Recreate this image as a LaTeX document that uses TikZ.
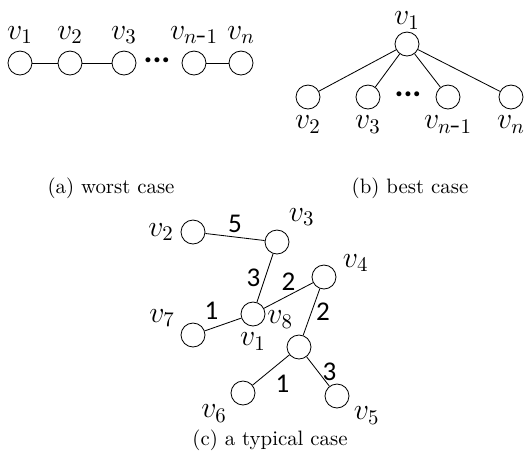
\documentclass[tikz,border=0pt]{standalone}
\usepackage{fontspec}
\newfontfamily\weightfont{Carlito}
\usetikzlibrary{positioning}

\begin{document}
\begin{tikzpicture}[
    x=0.48pt, y=-0.48pt,
    vert/.style = {draw, circle, minimum size=11.5pt, inner sep=0pt},
    vlabel/.style = {font=\Large, inner sep=1pt, label distance=2pt},
    weight/.style = {font=\weightfont\fontsize{13}{15}\selectfont, inner sep=2pt},
    dots/.style = {font=\weightfont\bfseries\fontsize{16}{18}\selectfont}
  ]
  \useasboundingbox (0,0) rectangle (525,463);

  % (a) worst case
  \node[vert, label={[vlabel]above:$v_1$}] (a1) at (20,63) {};
  \node[vert, label={[vlabel]above:$v_2$}] (a2) at (70,63) {};
  \node[vert, label={[vlabel]above:$v_3$}] (a3) at (124,63) {};
  \node[dots] (adots) at (157,60) {...};
  \node[vert, label={[vlabel]above:$v_{n\mbox{-}1}$}] (an1) at (194,63) {};
  \node[vert, label={[vlabel]above:$v_n$}] (an) at (241,63) {};
  \draw (a1)--(a2);
  \draw (a2)--(a3);
  \draw (an1)--(an);
  \node (capa) at (111,188) {(a) worst case};

  % (b) best case
  \node[vert, label={[vlabel, label distance=0pt]above:$v_1$}] (b1) at (407,44) {};
  \node[vert, label={[vlabel]below:$v_2$}] (b2) at (308,97) {};
  \node[vert, label={[vlabel]below:$v_3$}] (b3) at (368,97) {};
  \node[dots] (bdots) at (408,94) {...};
  \node[vert, label={[vlabel]below:$v_{n\mbox{-}1}$}] (bn1) at (448,97) {};
  \node[vert, label={[vlabel]below:$v_n$}] (bn) at (511,97) {};
  \draw (b1)--(b2);
  \draw (b1)--(b3);
  \draw (b1)--(bn1);
  \draw (b1)--(bn);
  \node (capb) at (410,188) {(b) best case};

  % (c) a typical case
  \node[vert, label={[vlabel]left:$v_2$}] (c2) at (193,232) {};
  \node[vert, label={[vlabel]55:$v_3$}] (c3) at (277,242) {};
  \node[vert, label={[vlabel]10:$v_4$}] (c4) at (324,277) {};
  \node[vert, label={[vlabel]below:$v_1$}] (c1) at (253,314) {};
  \node[vert, label={[vlabel]102:$v_8$}] (c8) at (299,347) {};
  \node[vert, label={[vlabel]160:$v_7$}] (c7) at (193,335) {};
  \node[vert, label={[vlabel]215:$v_6$}] (c6) at (243,393) {};
  \node[vert, label={[vlabel]-30:$v_5$}] (c5) at (337,396) {};
  \draw (c2) -- node[weight, above] {5} (c3);
  \draw (c1) -- node[weight, left] {3} (c3);
  \draw (c1) -- node[weight, above] {2} (c4);
  \draw (c4) -- node[weight, right] {2} (c8);
  \draw (c1) -- node[weight, above left] {1} (c7);
  \draw (c8) -- node[weight, below right] {1} (c6);
  \draw (c8) -- node[weight, right] {3} (c5);
  \node (capc) at (270,440) {(c) a typical case};
\end{tikzpicture}
\end{document}
